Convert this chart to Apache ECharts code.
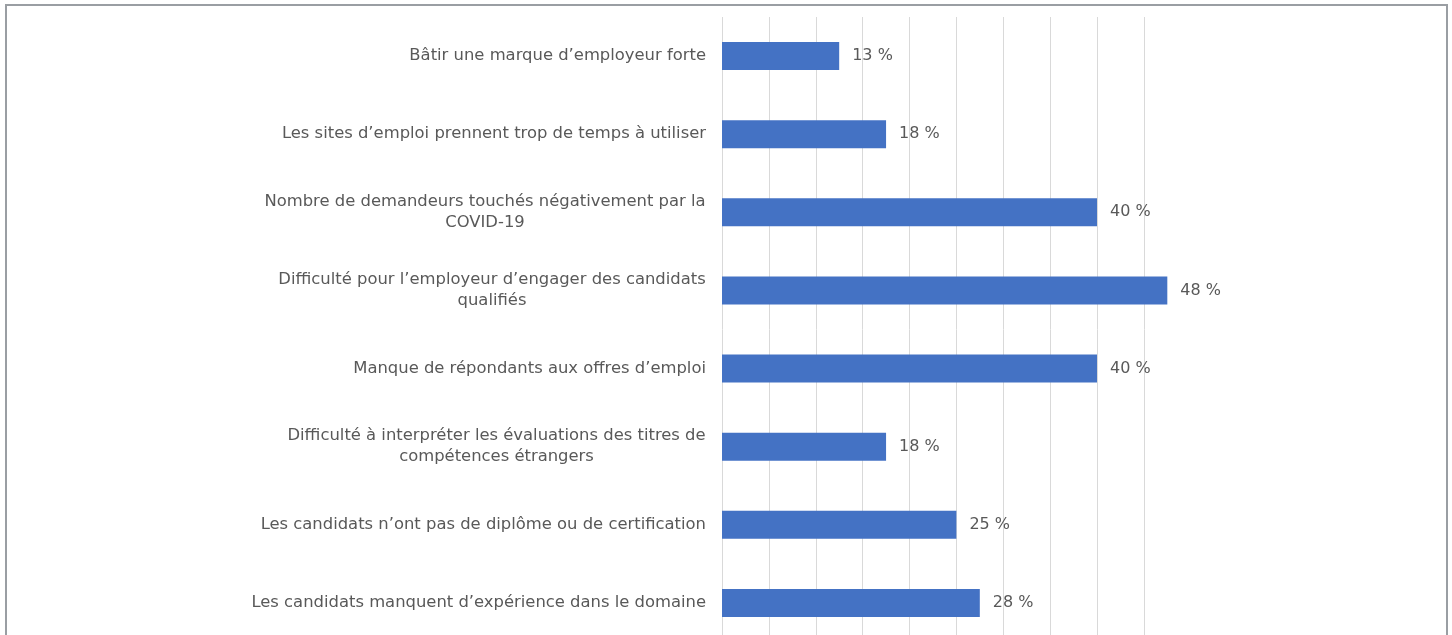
<!DOCTYPE html>
<html><head><meta charset="utf-8">
<script src="https://cdn.jsdelivr.net/npm/echarts@6/dist/echarts.min.js"></script>
<style>
html,body{margin:0;padding:0;background:#fff;overflow:hidden;width:1452px;height:635px}
#frame{position:absolute;left:5px;top:4px;width:1443px;height:700px;border:2px solid #9a9ea3;box-sizing:border-box}
#c{position:absolute;left:0;top:0;width:1452px;height:670px}
</style></head>
<body>
<div id="frame"></div>
<div id="c"></div>
<script>
const categories = [
  "Bâtir une marque d’employeur forte",
  "Les sites d’emploi prennent trop de temps à utiliser",
  "Nombre de demandeurs touchés négativement par la\nCOVID-19",
  "Difficulté pour l’employeur d’engager des candidats\nqualifiés",
  "Manque de répondants aux offres d’emploi",
  "Difficulté à interpréter les évaluations des titres de\ncompétences étrangers",
  "Les candidats n’ont pas de diplôme ou de certification",
  "Les candidats manquent d’expérience dans le domaine"
];
const values = [12.5, 17.5, 40, 47.5, 40, 17.5, 25, 27.5];

const FONT = "DejaVu Sans";
const LSIZE = 16.4;
const TXT = '#595959';
const cv = document.createElement('canvas').getContext('2d');
cv.font = LSIZE + "px '" + FONT + "'";
const rich = {};
function fmtLabel(s){
  const lines = s.split('\n');
  if (lines.length === 1) return s;
  const w = Math.ceil(Math.max(...lines.map(l => cv.measureText(l).width)));
  rich['c' + w] = {width: w, align: 'center', fontFamily: FONT, fontSize: LSIZE, color: TXT, lineHeight: 21};
  return lines.map(l => '{c' + w + '|' + l + '}').join('\n');
}
categories.forEach(fmtLabel);

const chart = echarts.init(document.getElementById('c'));
chart.setOption({
  animation: false,
  grid: {left: 722, width: 468.75, top: 17, height: 625, containLabel: false, outerBoundsMode: 'none'},
  xAxis: {
    type: 'value', min: 0, max: 50, interval: 5,
    axisLabel: {show: false}, axisLine: {show: false}, axisTick: {show: false},
    splitLine: {show: true, showMinLine: true, showMaxLine: false, lineStyle: {color: '#d9d9d9', width: 1}}
  },
  yAxis: {
    type: 'category', inverse: true, data: categories,
    axisLine: {show: false}, axisTick: {show: false},
    axisLabel: {
      margin: 16, color: TXT, fontFamily: FONT, fontSize: LSIZE, lineHeight: 21,
      align: 'right', formatter: fmtLabel, rich: rich
    }
  },
  series: [{
    type: 'bar', data: values, barWidth: 28,
    itemStyle: {color: '#4472C4'},
    label: {
      show: true, position: 'right', distance: 13,
      color: TXT, fontFamily: FONT, fontSize: 16,
      formatter: p => Math.round(p.value) + ' %'
    }
  }]
});
</script>
</body></html>
